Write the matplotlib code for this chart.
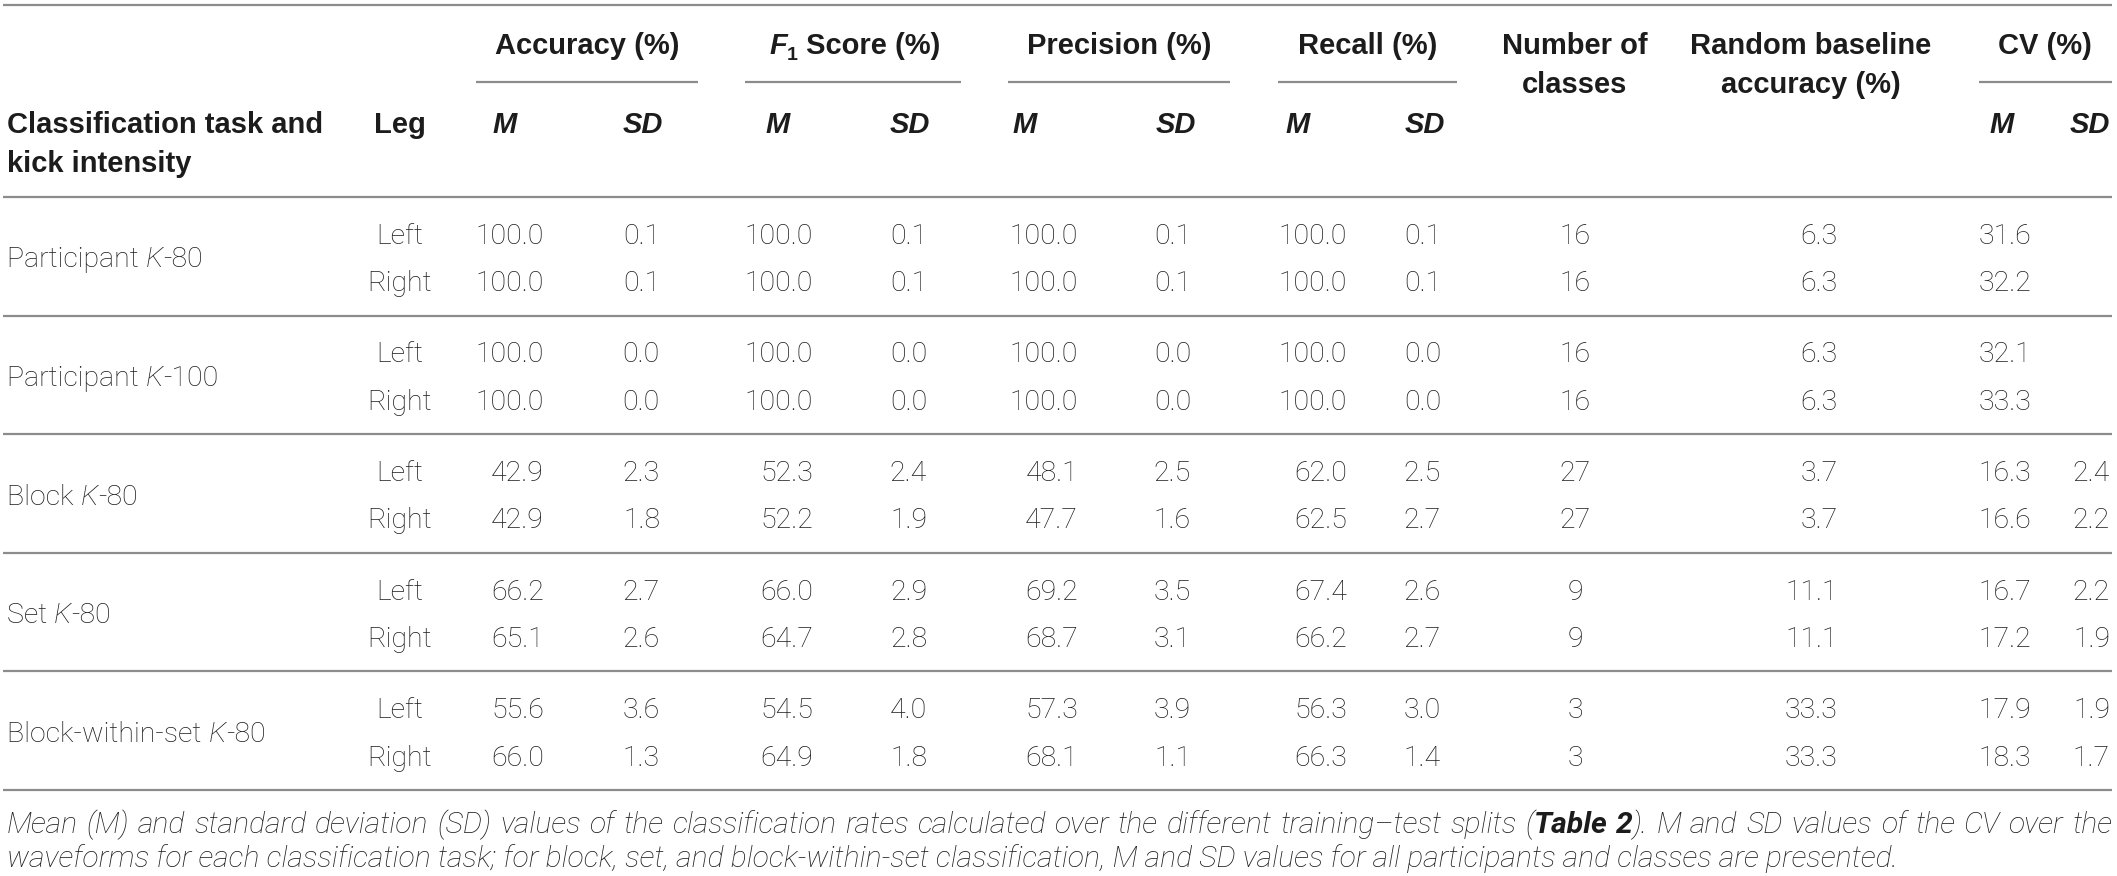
import matplotlib
matplotlib.use('Agg')
import matplotlib.pyplot as plt

# ---- table values ----
task_names = ['Participant', 'Participant', 'Block', 'Set', 'Block-within-set']
task_kick = ['-80', '-100', '-80', '-80', '-80']
legs = ['Left', 'Right']

acc_m = [[100.0, 100.0], [100.0, 100.0], [42.9, 42.9], [66.2, 65.1], [55.6, 66.0]]
acc_sd = [[0.1, 0.1], [0.0, 0.0], [2.3, 1.8], [2.7, 2.6], [3.6, 1.3]]
f1_m = [[100.0, 100.0], [100.0, 100.0], [52.3, 52.2], [66.0, 64.7], [54.5, 64.9]]
f1_sd = [[0.1, 0.1], [0.0, 0.0], [2.4, 1.9], [2.9, 2.8], [4.0, 1.8]]
prec_m = [[100.0, 100.0], [100.0, 100.0], [48.1, 47.7], [69.2, 68.7], [57.3, 68.1]]
prec_sd = [[0.1, 0.1], [0.0, 0.0], [2.5, 1.6], [3.5, 3.1], [3.9, 1.1]]
rec_m = [[100.0, 100.0], [100.0, 100.0], [62.0, 62.5], [67.4, 66.2], [56.3, 66.3]]
rec_sd = [[0.1, 0.1], [0.0, 0.0], [2.5, 2.7], [2.6, 2.7], [3.0, 1.4]]
n_classes = [16, 16, 27, 9, 3]
baseline_acc = [6.3, 6.3, 3.7, 11.1, 33.3]
cv_m = [[31.6, 32.2], [32.1, 33.3], [16.3, 16.6], [16.7, 17.2], [17.9, 18.3]]
cv_sd = [[None, None], [None, None], [2.4, 2.2], [2.2, 1.9], [1.9, 1.7]]

caption1 = [('Mean (M) and standard deviation (SD) values of the classification rates calculated over the different training\u2013test splits (', 'i'),
            ('Table 2', 'bi'),
            ('). M and SD values of the CV over the', 'i')]
caption2 = 'waveforms for each classification task; for block, set, and block-within-set classification, M and SD values for all participants and classes are presented.'

# ---- figure in pixel coordinates ----
W, H = 2117, 876
fig = plt.figure(figsize=(W / 100, H / 100), dpi=100)
ax = fig.add_axes([0, 0, 1, 1])
ax.set_xlim(0, W)
ax.set_ylim(H, 0)
ax.axis('off')
fig.canvas.draw()
renderer = fig.canvas.get_renderer()

INK = '#1c1c1c'
RULE = '#8c8c8c'
BODY = dict(family='Roboto', fontweight='light', fontsize=20.5, color=INK)
BODY_I = dict(BODY, style='italic')
HEAD = dict(family='Liberation Sans', fontweight='bold', fontsize=21, color=INK)
HEAD_I = dict(HEAD, style='italic')


def width_of(s, **kw):
    t1 = ax.text(0, 0, '|' + s + '|', **kw)
    t2 = ax.text(0, 0, '||', **kw)
    w = t1.get_window_extent(renderer).width - t2.get_window_extent(renderer).width
    t1.remove()
    t2.remove()
    return w


def runs(x, y, parts, ha='left'):
    # parts: (text, style dict, dy) drawn one after another on a baseline
    widths = [width_of(s, **kw) for s, kw, dy in parts]
    total = sum(widths)
    if ha == 'center':
        x -= total / 2
    elif ha == 'right':
        x -= total
    for (s, kw, dy), w in zip(parts, widths):
        ax.text(x, y + dy, s, va='baseline', ha='left', **kw)
        x += w


def hline(y, x0=3, x1=2112):
    ax.plot([x0, x1], [y, y], color=RULE, lw=1.6, solid_capstyle='butt')


# ---- header ----
hline(5)
g_base1, g_base2 = 53.5, 93
sub_base = 133

groups = [('Accuracy (%)', 587, 476, 698, 492, 663),
          (None, 855, 745, 961, 765, 930),
          ('Precision (%)', 1119, 1008, 1230, 1012, 1196),
          ('Recall (%)', 1368, 1278, 1457, 1285, 1445),
          ('CV (%)', 2045, 1979, 2112, 1989, 2110)]
for label, cx, u0, u1, mx, sdx in groups:
    if label is None:
        runs(cx, g_base1, [('F', HEAD_I, 0), ('1', dict(HEAD, fontsize=14), 6), (' Score (%)', HEAD, 0)], ha='center')
    else:
        ax.text(cx, g_base1, label, ha='center', va='baseline', **HEAD)
    hline(82, u0, u1)
    ax.text(mx, sub_base, 'M', ha='left', va='baseline', **HEAD_I)
    ax.text(sdx, sub_base, 'SD', ha='right', va='baseline', **HEAD_I)

ax.text(1575, g_base1, 'Number of', ha='center', va='baseline', **HEAD)
ax.text(1575, g_base2, 'classes', ha='center', va='baseline', **HEAD)
ax.text(1811, g_base1, 'Random baseline', ha='center', va='baseline', **HEAD)
ax.text(1811, g_base2, 'accuracy (%)', ha='center', va='baseline', **HEAD)

ax.text(7, sub_base, 'Classification task and', ha='left', va='baseline', **HEAD)
ax.text(7, sub_base + 39, 'kick intensity', ha='left', va='baseline', **HEAD)
ax.text(400, sub_base, 'Leg', ha='center', va='baseline', **HEAD)

# ---- body ----
rules = [197 + 118.6 * i for i in range(6)]
for r in rules:
    hline(r)

dig = 10.2
value_cols = [(acc_m, 544), (acc_sd, 660), (f1_m, 813), (f1_sd, 927),
              (prec_m, 1078), (prec_sd, 1191), (rec_m, 1347), (rec_sd, 1441),
              (cv_m, 2031), (cv_sd, 2110)]

for g in range(len(task_names)):
    ys = [rules[g] + 36.5, rules[g] + 84]
    mid = (ys[0] + ys[1]) / 2
    runs(7, mid + dig, [(task_names[g] + ' ', BODY, 0), ('K', BODY_I, 0), (task_kick[g], BODY, 0)])
    for i, y in enumerate(ys):
        ax.text(400, y + dig, legs[i], ha='center', va='baseline', **BODY)
        for arr, xr in value_cols:
            v = arr[g][i]
            if v is not None:
                ax.text(xr, y + dig, f'{v:.1f}', ha='right', va='baseline', **BODY)
        ax.text(1575, y + dig, str(n_classes[g]), ha='center', va='baseline', **BODY)
        ax.text(1838, y + dig, f'{baseline_acc[g]:.1f}', ha='right', va='baseline', **BODY)

# ---- caption ----
cap_fs = 18.0
cap_fs *= 1888 / width_of(caption2, family='Roboto', fontweight='light', style='italic', fontsize=cap_fs)
CAP = dict(family='Roboto', fontweight='light', style='italic', fontsize=cap_fs, color=INK)
CAP_B = dict(CAP, fontweight='bold')

# first caption line is justified across the full width
full = ''.join(s for s, _ in caption1)
tokens = []
pos = 0
for s, kind in caption1:
    st = CAP_B if kind == 'bi' else CAP
    for w in s.split(' '):
        if w:
            idx = full.index(w, pos)
            tokens.append((w, st, idx > 0 and full[idx - 1] == ' '))
            pos = idx + len(w)
space_w = width_of(' ', **CAP)
n_sp = sum(1 for _, _, sb in tokens if sb)
natural = sum(width_of(w, **st) for w, st, _ in tokens) + space_w * n_sp
gap = space_w + max(0.0, 2105 - natural) / n_sp
x = 7
for w, st, sb in tokens:
    if sb:
        x += gap
    ax.text(x, 833, w, ha='left', va='baseline', **st)
    x += width_of(w, **st)

ax.text(7, 867, caption2, ha='left', va='baseline', **CAP)

fig.savefig('out.png', dpi=100)
